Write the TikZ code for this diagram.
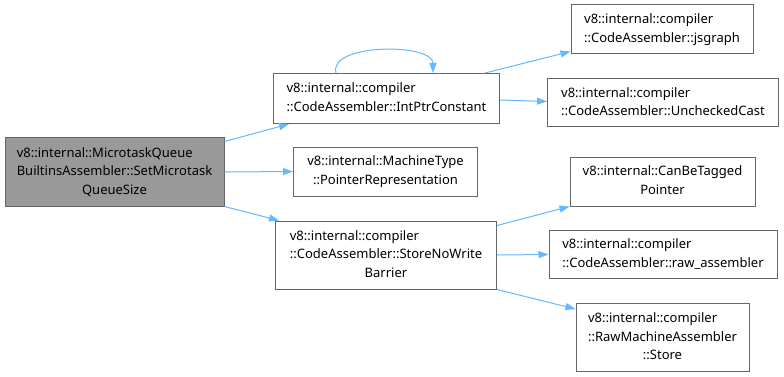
\documentclass[tikz,border=0pt]{standalone}
\usepackage{fontspec}
\setmainfont{Noto Sans}
\usetikzlibrary{arrows.meta,calc}
\definecolor{edgeblue}{HTML}{63B8FF}
\definecolor{boxline}{HTML}{666666}
\definecolor{mainfill}{HTML}{999999}
% label: left-aligned leading lines, centred last line
\newcommand\lbl[2]{\begin{tabular}{@{}l@{}}#1\\\multicolumn{1}{@{}c@{}}{#2}\end{tabular}}
\begin{document}
\begin{tikzpicture}[x=1pt,y=-1pt,
  fn/.style={draw=boxline,line width=1pt,fill=white,inner sep=0pt,
    font=\fontsize{13}{18.5}\selectfont},
  fnmain/.style={fn,fill=mainfill},
  call/.style={draw=edgeblue,line width=1pt,-{Triangle[length=10pt,width=7pt]}}]
\useasboundingbox[fill=white] (0,0) rectangle (784,377);
\renewcommand\arraystretch{1}
% functions
\node[fnmain,minimum width=219pt,minimum height=68pt] (main) at (114.5,172)
  {\lbl{v8::internal::MicrotaskQueue\\BuiltinsAssembler::SetMicrotask}{QueueSize}};
\node[fn,minimum width=226pt,minimum height=50pt] (ipc) at (386.5,98.5)
  {\lbl{v8::internal::compiler}{::CodeAssembler::IntPtrConstant}};
\node[fn,minimum width=182pt,minimum height=49pt] (jsg) at (662,29.5)
  {\lbl{v8::internal::compiler}{::CodeAssembler::jsgraph}};
\node[fn,minimum width=231pt,minimum height=48pt] (unc) at (663,103)
  {\lbl{v8::internal::compiler}{::CodeAssembler::UncheckedCast}};
\node[fn,minimum width=184pt,minimum height=49pt] (ptr) at (385.5,171.5)
  {\begin{tabular}{@{}c@{}}v8::internal::MachineType\\::PointerRepresentation\end{tabular}};
\node[fn,minimum width=221pt,minimum height=68pt] (snwb) at (386,255)
  {\lbl{v8::internal::compiler\\::CodeAssembler::StoreNoWrite}{Barrier}};
\node[fn,minimum width=185pt,minimum height=49pt] (cbt) at (662.5,181.5)
  {\lbl{v8::internal::CanBeTagged}{Pointer}};
\node[fn,minimum width=228pt,minimum height=48pt] (raw) at (663,254.5)
  {\lbl{v8::internal::compiler}{::CodeAssembler::raw\_assembler}};
\node[fn,minimum width=173pt,minimum height=68pt] (sto) at (662.5,337.5)
  {\lbl{v8::internal::compiler\\::RawMachineAssembler}{::Store}};
% calls
\draw[call] ($(main.north east)+(0,4)$) -- ($(ipc.south west)+(16,0)$);
\draw[call] (main.east) -- (ptr.west);
\draw[call] (main.south east) -- ($(snwb.north west)+(4,0)$);
\draw[call] ($(ipc.north west)+(63,0)$) .. controls ($(ipc.north west)+(55,-30)$) and ($(ipc.north west)+(160,-30)$) .. ($(ipc.north west)+(160,0)$);
\draw[call] ($(ipc.north east)+(-15,0)$) -- ($(jsg.south west)+(0,-3)$);
\draw[call] ($(ipc.east)+(0,1.5)$) -- ($(unc.west)+(0,-1.5)$);
\draw[call] ($(snwb.north east)+(0,5)$) -- (cbt.south west);
\draw[call] (snwb.east) -- (raw.west);
\draw[call] (snwb.south east) -- ($(sto.north west)+(0,6)$);
\end{tikzpicture}
\end{document}
